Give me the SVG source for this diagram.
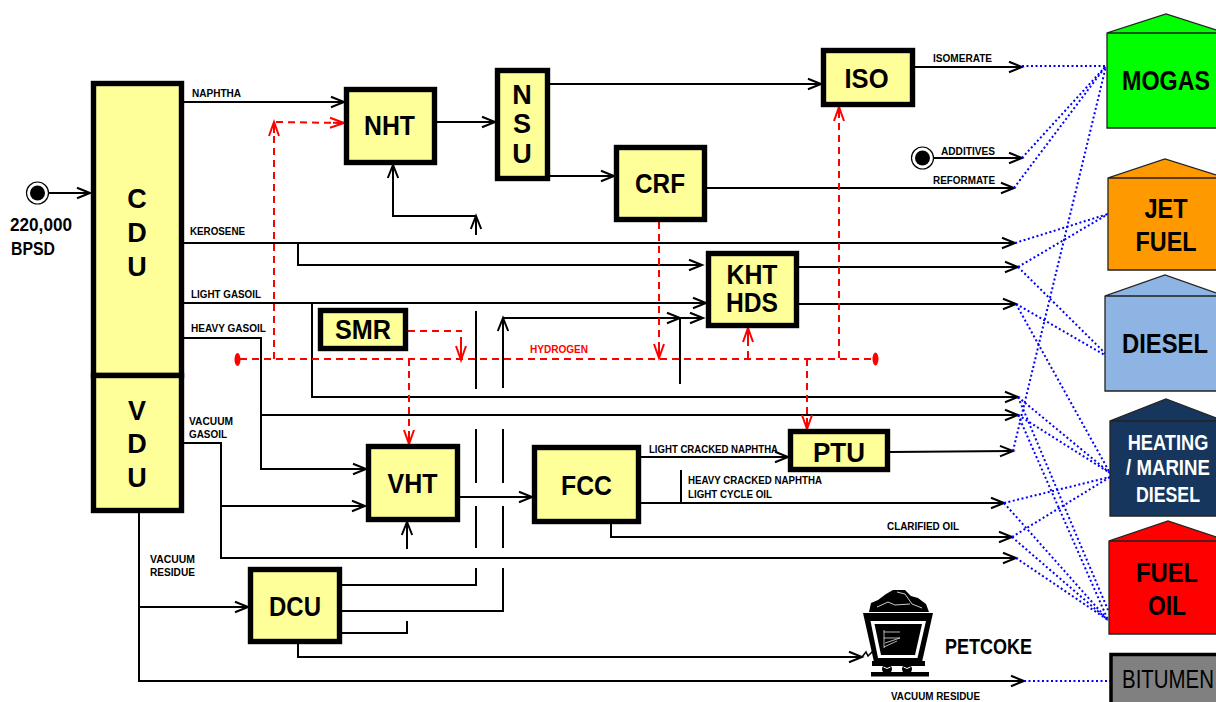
<svg xmlns="http://www.w3.org/2000/svg" width="1216" height="702" viewBox="0 0 1216 702">
<style>
text{font-family:"Liberation Sans",Arial,sans-serif;font-weight:bold;fill:#000}
.box{fill:#ffff99;stroke:#000;stroke-width:5.400}
.n{font-size:27px;text-anchor:middle}
.s{font-size:10.500px}
.t{font-size:27px;text-anchor:middle}
.w{font-size:22px;text-anchor:middle;fill:#fff}
.k{fill:none;stroke:#000;stroke-width:2}
.a{marker-end:url(#ah)}
.r{fill:none;stroke:#f00;stroke-width:2;stroke-dasharray:7 5}
.b{fill:none;stroke:#00f;stroke-width:2;stroke-dasharray:2 2.500}
.tank{stroke:none}
.edge{fill:none;stroke:#222;stroke-width:1.300}
</style>
<defs>
<marker id="ah" markerUnits="userSpaceOnUse" markerWidth="16" markerHeight="14" refX="14" refY="7" orient="auto" overflow="visible"><path d="M1,1.800 L14,7 L1,12.200 M4,7 H14" fill="none" stroke="#000" stroke-width="2"/></marker>
<marker id="rh" markerUnits="userSpaceOnUse" markerWidth="16" markerHeight="14" refX="14" refY="7" orient="auto" overflow="visible"><path d="M0,2 L14,7 L0,12 M3,7 H14" fill="none" stroke="#f00" stroke-width="2"/></marker>
</defs>
<g id="connectors">
<g id="black-lines">
<path class="k a" d="M48,193H90"/>
<path class="k a" d="M184,102H344"/>
<path class="k a" d="M437,122H495"/>
<path class="k a" d="M550,84H821"/>
<path class="k a" d="M550,176H614"/>
<path class="k a" d="M707,188H1014"/>
<path class="k a" d="M915,67H1022"/>
<path class="k a" d="M933,158H1022"/>
<path class="k a" d="M184,243H1015"/>
<path class="k a" d="M298,243V265H702"/>
<path class="k a" d="M799,267H1018"/>
<path class="k a" d="M799,304H1016"/>
<path class="k a" d="M184,303H706"/>
<path class="k a" d="M312,303V397H1018"/>
<path class="k a" d="M184,338H261V469H366"/>
<path class="k a" d="M261,415H1018"/>
<path class="k a" d="M184,443H221V558H1016"/>
<path class="k a" d="M221,506H365"/>
<path class="k a" d="M460,497H532"/>
<path class="k a" d="M407,549V522"/>
<path class="k a" d="M475,216H393V165"/>
<path class="k a" d="M476,235V216"/>
<path class="k a" d="M503,388V318"/>
<path class="k a" d="M503,318H680"/>
<path class="k a" d="M680,318H703"/>
<path class="k" d="M680,318V384"/>
<path class="k" d="M476,311V389M476,429V483M476,506V548M476,568V585H342"/>
<path class="k" d="M503,429V483M503,506V548M503,568V611H342"/>
<path class="k" d="M407,621V633H342"/>
<path class="k a" d="M298,644V657H862"/>
<path class="k a" d="M139,513V681H1024"/>
<path class="k a" d="M139,607H248"/>
<path class="k a" d="M641,457H788"/>
<path class="k a" d="M641,503H1004"/>
<path class="k" d="M681,470V503"/>
<path class="k a" d="M611,524V537H1012"/>
<path class="k a" d="M890,452L1013,451"/>
</g>
<g id="hydrogen-lines">
<path class="r" d="M240,359H875"/>
<path class="r" d="M274,359V122" marker-end="url(#rh)"/>
<path class="r" d="M276,122L344,123" marker-end="url(#rh)"/>
<path class="r" d="M408,331H462"/>
<path class="r" d="M461,337V360" marker-end="url(#rh)" style="stroke-dasharray:none"/>
<path class="r" d="M409,359V444" marker-end="url(#rh)"/>
<path class="r" d="M659,222V358" marker-end="url(#rh)"/>
<path class="r" d="M748,358V328" marker-end="url(#rh)"/>
<path class="r" d="M807,359V429" marker-end="url(#rh)"/>
<path class="r" d="M839,358V107" marker-end="url(#rh)"/>
<ellipse cx="237.500" cy="359.500" rx="3" ry="6.500" fill="#f00"/>
<ellipse cx="875.500" cy="359" rx="3" ry="6.500" fill="#f00"/>
</g>
<g id="blending-lines">
<path class="b" d="M1022,66H1106"/>
<path class="b" d="M1022,158L1106,66"/>
<path class="b" d="M1014,188L1106,66"/>
<path class="b" d="M1013,451L1106,66"/>
<path class="b" d="M1015,243L1108,214"/>
<path class="b" d="M1018,267L1108,214"/>
<path class="b" d="M1018,267L1110,358"/>
<path class="b" d="M1016,304L1110,358"/>
<path class="b" d="M1016,304L1110,473"/>
<path class="b" d="M1018,397L1110,473"/>
<path class="b" d="M1018,415L1110,473"/>
<path class="b" d="M1004,503L1110,477"/>
<path class="b" d="M1012,537L1110,477"/>
<path class="b" d="M1018,397L1108,610"/>
<path class="b" d="M1018,415L1108,620"/>
<path class="b" d="M1004,503L1108,620"/>
<path class="b" d="M1012,537L1108,620"/>
<path class="b" d="M1016,558L1108,620"/>
<path class="b" d="M1024,681H1110"/>
</g>
</g>
<g id="feed"><circle cx="37.500" cy="193" r="11" fill="#fff" stroke="#000" stroke-width="1.200"/><circle cx="37.500" cy="193" r="7.500" fill="#000"/>
<text x="10" y="231" font-size="18.500" textLength="62" lengthAdjust="spacingAndGlyphs">220,000</text>
<text x="11" y="255" font-size="18.500" textLength="44" lengthAdjust="spacingAndGlyphs">BPSD</text></g>
<g id="additives"><circle cx="922.500" cy="158" r="11" fill="#fff" stroke="#000" stroke-width="1.200"/><circle cx="922.500" cy="158" r="7.500" fill="#000"/></g>
<g id="CDU"><rect class="box" x="93.500" y="83.500" width="88" height="292"/>
<text class="n" x="137" y="208">C</text><text class="n" x="137" y="242">D</text><text class="n" x="137" y="276">U</text></g>
<g id="VDU"><rect class="box" x="93.500" y="375.500" width="88" height="135"/>
<text class="n" x="137" y="420">V</text><text class="n" x="137" y="453">D</text><text class="n" x="137" y="487">U</text></g>
<g id="NHT"><rect class="box" x="346.500" y="89.500" width="88" height="73"/><text class="n" x="389.500" y="135" textLength="51" lengthAdjust="spacingAndGlyphs">NHT</text></g>
<g id="NSU"><rect class="box" x="497.500" y="70.500" width="50" height="108"/>
<text class="n" x="522" y="104">N</text><text class="n" x="522" y="133">S</text><text class="n" x="522" y="163">U</text></g>
<g id="CRF"><rect class="box" x="616.500" y="147.500" width="88" height="72"/><text class="n" x="660" y="193" textLength="50" lengthAdjust="spacingAndGlyphs">CRF</text></g>
<g id="ISO"><rect class="box" x="823.500" y="50.500" width="89" height="54"/><text class="n" x="866.500" y="88" textLength="44" lengthAdjust="spacingAndGlyphs">ISO</text></g>
<g id="KHT-HDS"><rect class="box" x="708.500" y="253.500" width="88" height="72"/>
<text class="n" x="752" y="284" textLength="51" lengthAdjust="spacingAndGlyphs">KHT</text><text class="n" x="752" y="312" textLength="52" lengthAdjust="spacingAndGlyphs">HDS</text></g>
<g id="SMR"><rect class="box" x="320.500" y="310.500" width="85" height="38"/><text class="n" x="363" y="339" textLength="56" lengthAdjust="spacingAndGlyphs">SMR</text></g>
<g id="VHT"><rect class="box" x="368.500" y="446.500" width="89" height="73"/><text class="n" x="412.500" y="493" textLength="50" lengthAdjust="spacingAndGlyphs">VHT</text></g>
<g id="FCC"><rect class="box" x="534.500" y="447.500" width="104" height="74"/><text class="n" x="586.500" y="495" textLength="51" lengthAdjust="spacingAndGlyphs">FCC</text></g>
<g id="PTU"><rect class="box" x="790.500" y="431.500" width="97" height="38"/><text class="n" x="839" y="462" textLength="52" lengthAdjust="spacingAndGlyphs">PTU</text></g>
<g id="DCU"><rect class="box" x="250.500" y="569.500" width="89" height="72"/><text class="n" x="295" y="616" textLength="52" lengthAdjust="spacingAndGlyphs">DCU</text></g>
<g id="MOGAS"><path class="tank" fill="#0f0" d="M1107,33L1166,14L1216,30V128H1107Z"/><path class="edge" d="M1216,30L1166,14L1107,33V128H1216M1107,33H1216"/>
<text class="t" transform="translate(1166 90) scale(.863 1)">MOGAS</text></g>
<g id="JET-FUEL"><path class="tank" fill="#f90" d="M1108,178L1165,159L1216,175V270H1108Z"/><path class="edge" d="M1216,175L1165,159L1108,178V270H1216M1108,178H1216"/>
<text class="t" transform="translate(1166 218) scale(.87 1)">JET</text><text class="t" transform="translate(1166 251) scale(.865 1)">FUEL</text></g>
<g id="DIESEL"><path class="tank" fill="#8eb4e3" d="M1105,296L1165,275L1216,293V391H1105Z"/><path class="edge" d="M1216,293L1165,275L1105,296V391H1216M1105,296H1216"/>
<text class="t" transform="translate(1165 353) scale(.882 1)">DIESEL</text></g>
<g id="HEATING-MARINE-DIESEL"><path class="tank" fill="#17365d" d="M1110,421L1166,399L1216,418V516H1110Z"/><path class="edge" d="M1216,418L1166,399L1110,421V516H1216M1110,421H1216"/>
<text class="w" transform="translate(1168 450) scale(.828 1)">HEATING</text>
<text class="w" transform="translate(1168 475) scale(.848 1)">/ MARINE</text>
<text class="w" transform="translate(1168 502) scale(.805 1)">DIESEL</text></g>
<g id="FUEL-OIL"><path class="tank" fill="#f00" d="M1109,541L1168,521L1216,537V634H1109Z"/><path class="edge" d="M1216,537L1168,521L1109,541V634H1216M1109,541H1216"/>
<text class="t" transform="translate(1167 582) scale(.88 1)">FUEL</text><text class="t" transform="translate(1167 615) scale(.845 1)">OIL</text></g>
<g id="BITUMEN"><path fill="#808080" d="M1111,654.500H1216V702H1111Z"/><path fill="none" stroke="#000" stroke-width="3.500" d="M1216,654.500H1111V702"/>
<text font-size="26" transform="translate(1122 688) scale(.786 1)" style="font-weight:normal">BITUMEN</text></g>
<g id="petcoke">
<path d="M869,612L871,603L878,600L886,594L893,590L905,590L911,596L918,598L926,604L929,612Z" fill="#000"/>
<path d="M877,607L888,602L895,605L910,604M897,592L905,594L912,604L922,608" fill="none" stroke="#fff" stroke-width="0.800"/>
<path d="M863,613H933L922,662H874Z" fill="#000"/>
<path d="M870.500,621H926L917.500,658H878Z" fill="#fff"/>
<path d="M874.500,624H922L915,655H881Z" fill="#000"/>
<path d="M884,630V648M884,632H900M884,638H900L885,643M884,647L897,641" fill="none" stroke="#fff" stroke-width="0.700"/>
<path d="M862,657L866,652L868,656L874,650L876,654" fill="none" stroke="#000" stroke-width="1.500"/>
<rect x="872" y="661" width="53" height="5" fill="#000"/>
<circle cx="887" cy="669" r="5" fill="#000"/><circle cx="907" cy="669" r="5" fill="#000"/>
<path d="M883.500,667Q887,670 890.500,667M903.500,667Q907,670 910.500,667" fill="none" stroke="#fff" stroke-width="1"/>
<rect x="871" y="672" width="58" height="4.500" fill="#000"/>
<text x="945" y="654" font-size="22" textLength="87" lengthAdjust="spacingAndGlyphs">PETCOKE</text>
</g>
<g id="labels">
<text class="s" x="192" y="97" textLength="49" lengthAdjust="spacingAndGlyphs">NAPHTHA</text>
<text class="s" x="190" y="235" textLength="55" lengthAdjust="spacingAndGlyphs">KEROSENE</text>
<text class="s" x="191" y="298" textLength="70" lengthAdjust="spacingAndGlyphs">LIGHT GASOIL</text>
<text class="s" x="191" y="332" textLength="75" lengthAdjust="spacingAndGlyphs">HEAVY GASOIL</text>
<text class="s" x="189" y="425" textLength="44" lengthAdjust="spacingAndGlyphs">VACUUM</text>
<text class="s" x="189" y="438" textLength="38" lengthAdjust="spacingAndGlyphs">GASOIL</text>
<text class="s" x="150" y="563" textLength="45" lengthAdjust="spacingAndGlyphs">VACUUM</text>
<text class="s" x="150" y="576" textLength="45" lengthAdjust="spacingAndGlyphs">RESIDUE</text>
<text class="s" x="649" y="453" textLength="129" lengthAdjust="spacingAndGlyphs">LIGHT CRACKED NAPHTHA</text>
<text class="s" x="688" y="484" textLength="134" lengthAdjust="spacingAndGlyphs">HEAVY CRACKED NAPHTHA</text>
<text class="s" x="688" y="498" textLength="84" lengthAdjust="spacingAndGlyphs">LIGHT CYCLE OIL</text>
<text class="s" x="887" y="530" textLength="72" lengthAdjust="spacingAndGlyphs">CLARIFIED OIL</text>
<text class="s" x="891" y="700" textLength="89" lengthAdjust="spacingAndGlyphs">VACUUM RESIDUE</text>
<text class="s" x="933" y="62" textLength="59" lengthAdjust="spacingAndGlyphs">ISOMERATE</text>
<text class="s" x="941" y="155" textLength="54" lengthAdjust="spacingAndGlyphs">ADDITIVES</text>
<text class="s" x="933" y="184" textLength="62" lengthAdjust="spacingAndGlyphs">REFORMATE</text>
<text class="s" x="530" y="353" textLength="58" lengthAdjust="spacingAndGlyphs" style="fill:#f00">HYDROGEN</text>
</g>
</svg>
